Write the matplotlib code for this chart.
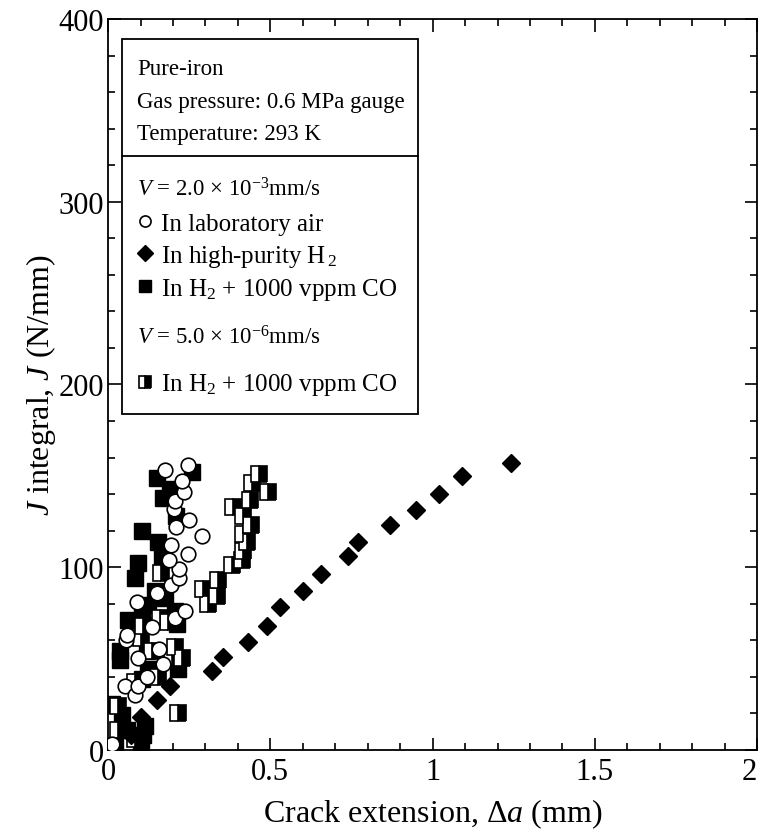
import matplotlib
matplotlib.use('Agg')
import matplotlib.pyplot as plt
from matplotlib.patches import Rectangle
from matplotlib.lines import Line2D
from matplotlib.ticker import MultipleLocator

plt.rcParams['font.family'] = ['Liberation Serif', 'DejaVu Serif']
plt.rcParams['mathtext.fontset'] = 'custom'
plt.rcParams['mathtext.rm'] = 'Liberation Serif'
plt.rcParams['mathtext.it'] = 'Liberation Serif:italic'

# In laboratory air, V = 2.0e-3 mm/s
air_da = [0.0, 0.012, 0.052, 0.083, 0.092, 0.12, 0.17, 0.092, 0.157, 0.055, 0.058, 0.136,
          0.206, 0.237, 0.09, 0.151, 0.194, 0.219, 0.219, 0.188, 0.246, 0.194, 0.29,
          0.21, 0.25, 0.203, 0.206, 0.234, 0.228, 0.176, 0.246]
air_j = [2, 3, 35, 30, 35, 40, 47, 50, 55, 60, 63, 67,
         72, 76, 81, 86, 90, 94, 99, 104, 107, 112, 117,
         122, 126, 132, 136, 141, 147, 153, 156]

# In high-purity H2, V = 2.0e-3 mm/s
h2_da = [0.07, 0.10, 0.15, 0.19, 0.32, 0.354, 0.43, 0.49, 0.53, 0.60, 0.656,
         0.74, 0.77, 0.87, 0.95, 1.02, 1.09, 1.24]
h2_j = [8, 18, 27, 35, 43, 51, 59, 68, 78, 87, 96,
        106, 114, 123, 131, 140, 150, 157]

# In H2 + 1000 vppm CO, V = 2.0e-3 mm/s
co_fast_da = [0.02, 0.10, 0.108, 0.058, 0.114, 0.043, 0.012, 0.105, 0.123, 0.216, 0.037,
              0.037, 0.12, 0.213, 0.062, 0.206, 0.105, 0.123, 0.176, 0.145, 0.083, 0.092,
              0.166, 0.154, 0.105, 0.21, 0.17, 0.19, 0.15, 0.26]
co_fast_j = [2, 2, 8, 11, 13, 19, 25, 39, 44, 44, 49,
             54, 54, 69, 71, 76, 76, 79, 83, 87, 94, 102,
             106, 114, 120, 128, 138, 143, 149, 152]

# In H2 + 1000 vppm CO, V = 5.0e-6 mm/s
co_slow_da = [0.006, 0.083, 0.031, 0.216, 0.031, 0.083, 0.154, 0.197, 0.228, 0.136, 0.206,
              0.10, 0.108, 0.185, 0.16, 0.163, 0.308, 0.335, 0.293, 0.34, 0.382, 0.413,
              0.416, 0.428, 0.416, 0.44, 0.416, 0.386, 0.437, 0.494, 0.443, 0.466]
co_slow_j = [2, 6, 11, 20, 24, 37, 40, 51, 50, 54, 56,
             61, 68, 70, 72, 97, 80, 84, 88, 93, 101, 104,
             109, 114, 118, 123, 128, 133, 137, 141, 146, 151]

fig = plt.figure(figsize=(7.61, 8.37), dpi=100)
ax = fig.add_axes([0.142, 0.103, 0.853, 0.873])

ax.plot(co_fast_da, co_fast_j, 's', ms=11, mfc='black', mec='black', mew=1.0, zorder=3)
ax.plot(co_slow_da, co_slow_j, 's', ms=11, fillstyle='right', mfc='black',
        mfcalt='white', mec='black', mew=1.2, zorder=4)
ax.plot(h2_da, h2_j, 'D', ms=9, mfc='black', mec='black', zorder=5)
ax.plot(air_da, air_j, 'o', ms=10.5, mfc='white', mec='black', mew=1.2, zorder=6)

ax.set_xlim(0, 2)
ax.set_ylim(0, 400)
ax.xaxis.set_minor_locator(MultipleLocator(0.1))
ax.yaxis.set_major_locator(MultipleLocator(100))
ax.yaxis.set_minor_locator(MultipleLocator(20))
ax.set_xticks([0, 0.5, 1, 1.5, 2], ['0', '0.5', '1', '1.5', '2'])
ax.tick_params(which='both', direction='in', top=True, right=True, labelsize=22, width=1.2)
ax.tick_params(which='major', length=9)
ax.tick_params(which='minor', length=5)
ax.tick_params(axis='y', which='major', pad=3)
ax.tick_params(axis='x', which='major', pad=5)
ax.get_xticklabels()[-1].set_ha('right')
for s in ax.spines.values():
    s.set_linewidth(1.3)

ax.set_xlabel(r'Crack extension, $\Delta a$ (mm)', fontsize=23, labelpad=8)
ax.set_ylabel(r'$J$ integral, $J$ (N/mm)', fontsize=23, labelpad=0)

# condition box
ax.add_patch(Rectangle((0.022, 0.459), 0.456, 0.514, transform=ax.transAxes,
                       fill=False, ec='black', lw=1.3, zorder=7))
ax.plot([0.022, 0.478], [0.813, 0.813], transform=ax.transAxes, color='black', lw=1.3, zorder=7)
fs = 16.5
ax.text(0.045, 0.932, 'Pure-iron', transform=ax.transAxes, fontsize=fs, va='center')
ax.text(0.045, 0.887, 'Gas pressure: 0.6 MPa gauge', transform=ax.transAxes, fontsize=fs, va='center')
ax.text(0.045, 0.843, 'Temperature: 293 K', transform=ax.transAxes, fontsize=fs, va='center')
ax.text(0.045, 0.767, r'$V$ = 2.0 × 10$^{-3}$mm/s', transform=ax.transAxes, fontsize=fs, va='center')
ax.text(0.045, 0.565, r'$V$ = 5.0 × 10$^{-6}$mm/s', transform=ax.transAxes, fontsize=fs, va='center')

h_air = Line2D([], [], ls='none', marker='o', ms=8, mfc='white', mec='black', mew=1.2)
h_h2 = Line2D([], [], ls='none', marker='D', ms=8, mfc='black', mec='black')
h_co = Line2D([], [], ls='none', marker='s', ms=9, mfc='black', mec='black')
h_slow = Line2D([], [], ls='none', marker='s', ms=9, fillstyle='right', mfc='black',
                mfcalt='white', mec='black', mew=1.2)
leg_fs = 18
leg1 = ax.legend([h_air, h_h2, h_co],
                 ['In laboratory air', r'In high-purity H$_{\,2}$', r'In H$_2$ + 1000 vppm CO'],
                 loc='upper left', bbox_to_anchor=(0.045, 0.735), frameon=False, fontsize=leg_fs,
                 handlelength=0.6, handletextpad=0.35, labelspacing=0.3, borderpad=0,
                 borderaxespad=0)
ax.add_artist(leg1)
ax.legend([h_slow], [r'In H$_2$ + 1000 vppm CO'],
          loc='upper left', bbox_to_anchor=(0.045, 0.518), frameon=False, fontsize=leg_fs,
          handlelength=0.6, handletextpad=0.35, borderpad=0, borderaxespad=0)

fig.savefig('out.png', dpi=100)
